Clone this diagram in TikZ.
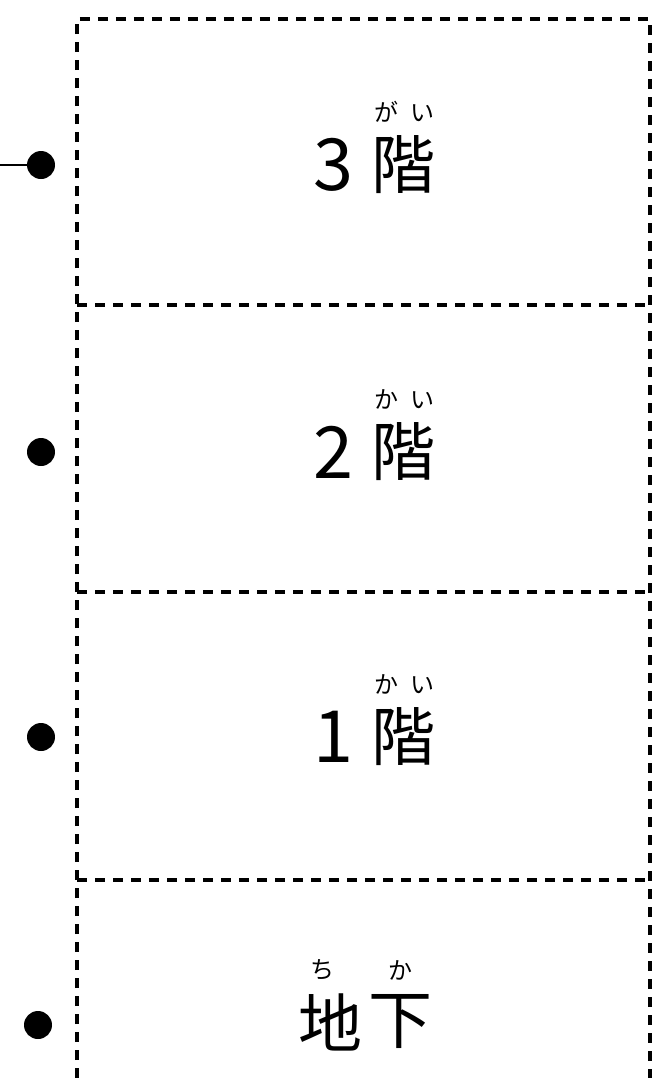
\documentclass[tikz,border=0pt]{standalone}
\usepackage{fontspec}
\setmainfont{Noto Sans CJK JP}
\usetikzlibrary{positioning}

\begin{document}
\begin{tikzpicture}
  [x=0.5pt,y=-0.5pt,every node/.style={inner sep=0pt},
   wall/.style={line width=1.6pt,dash pattern=on 5pt off 4pt},
   dot/.style={circle,fill=black,minimum size=14pt},
   num/.style={font=\fontsize{36}{36}\selectfont},
   kanji/.style={font=\fontsize{32}{32}\selectfont},
   kana/.style={font=\fontsize{12}{12}\selectfont}]
  \useasboundingbox (0,0) rectangle (654,1078);
  % walls and floors
  \draw[wall] (77,1078) -- (77,19) -- (650,19) -- (650,1078);
\foreach \y in {305,592,880}
    \draw[wall] (77,\y) -- (650,\y);
  % floor names
\foreach \n/\y/\r in {3/165/が, 2/452/か, 1/737/か}
  {
  \node[num] (n\n) at (333,\y) {\n};
  \node[kanji] (k\n) at (403,\y) {階};
  \node[kana] (r\n) at (404,\y-53) {\r\hspace{6pt}い};
  }
  \node[kanji] (kb1) at (330,1022) {地};
  \node[kanji] (kb2) at (400,1022) {下};
  \node[kana] (rb1) at (322,970) {ち};
  \node[kana] (rb2) at (400,970) {か};
  % dots
  \node[dot] (d3) at (41,165) {};
  \node[dot] (d2) at (41,452) {};
  \node[dot] (d1) at (41,737) {};
  \node[dot] (db) at (38,1025) {};
  \coordinate (lead) at (0,165);
  \draw[line width=1pt] (lead) -- (d3);
\end{tikzpicture}
\end{document}
